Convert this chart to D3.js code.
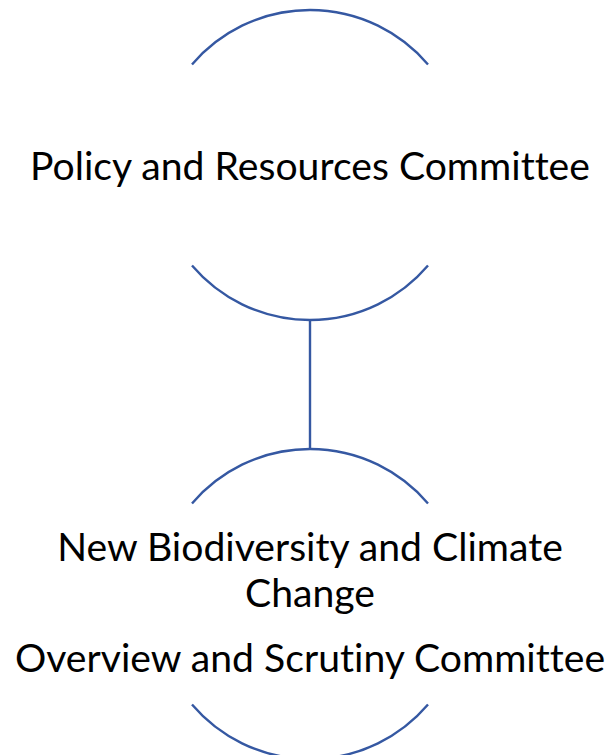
<!DOCTYPE html>
<html>
<head>
<meta charset="utf-8">
<script src="https://cdn.jsdelivr.net/npm/d3@7.9.0/dist/d3.min.js"></script>
<style>
  html, body { margin: 0; padding: 0; background: #fff; }
  svg { display: block; }
  .lbl text { font-variant-ligatures: none; font-feature-settings: "liga" 0, "clig" 0; }
</style>
</head>
<body>
<div id="chart"></div>
<script>
// Hierarchy: one parent committee, one child committee
const nodeIds    = ['policy', 'biodiversity'];
const nodeLevels = [0, 1];
const nodeLabels = [
  [['Policy and Resources Committee']],
  [['New Biodiversity and Climate', 'Change'], ['Overview and Scrutiny Committee']]
];
const links = [{ source: 'policy', target: 'biodiversity' }];

const W = 609, H = 755;
const cx = 310, R = 155, chordHalf = 118;
const stroke = '#3558a2';
const fontSize = 38, lineGap = 46, paraGap = 65;
const targetWidth = 560; // width of the first label in the reference

const svg = d3.select('#chart').append('svg')
  .attr('width', W).attr('height', H);

const y = d3.scaleLinear().domain([0, 1]).range([165, 604]);

const nodes = nodeIds.map((id, i) => ({ id, level: nodeLevels[i], paras: nodeLabels[i] }));
const byId = new Map(nodes.map(n => [n.id, n]));

// connectors
svg.append('g').selectAll('line').data(links).join('line')
  .attr('x1', cx).attr('x2', cx)
  .attr('y1', d => y(byId.get(d.source).level) + R)
  .attr('y2', d => y(byId.get(d.target).level) - R)
  .attr('stroke', stroke).attr('stroke-width', 2.4);

// partial circles (top and bottom arcs only)
const theta = Math.asin(chordHalf / R);
function arcs(cy) {
  const p = d3.path();
  p.arc(cx, cy, R, -Math.PI / 2 - theta, -Math.PI / 2 + theta);
  p.moveTo(cx + R * Math.cos(Math.PI / 2 - theta), cy + R * Math.sin(Math.PI / 2 - theta));
  p.arc(cx, cy, R, Math.PI / 2 - theta, Math.PI / 2 + theta);
  return p.toString();
}

const g = svg.append('g').selectAll('g').data(nodes).join('g');
g.append('path')
  .attr('d', d => arcs(y(d.level)))
  .attr('fill', 'none').attr('stroke', stroke).attr('stroke-width', 2.4);

// labels: one text per node, lines as tspans
const textG = g.append('g').attr('class', 'lbl');
textG.each(function(d) {
  const lines = [];
  let off = 0;
  d.paras.forEach(para => {
    para.forEach((t, li) => {
      if (lines.length) off += (li === 0 ? paraGap : lineGap);
      lines.push({ t, off });
    });
  });
  const single = d.paras.length === 1 && d.paras[0].length === 1;
  const base = single ? y(d.level) + 15 : y(d.level) - 43;
  d3.select(this).append('text')
    .attr('text-anchor', 'middle')
    .attr('font-family', 'Lato, "Open Sans", sans-serif')
    .attr('font-size', fontSize)
    .attr('fill', '#000')
    .selectAll('tspan').data(lines).join('tspan')
      .attr('x', 0)
      .attr('y', l => base + l.off)
      .text(l => l.t);
});

// adjust horizontal scale so label widths follow the original typeface
const firstW = textG.select('tspan').node().getComputedTextLength();
const k = targetWidth / firstW;
textG.attr('transform', `translate(${cx},0) scale(${k},1)`);
</script>
</body>
</html>
